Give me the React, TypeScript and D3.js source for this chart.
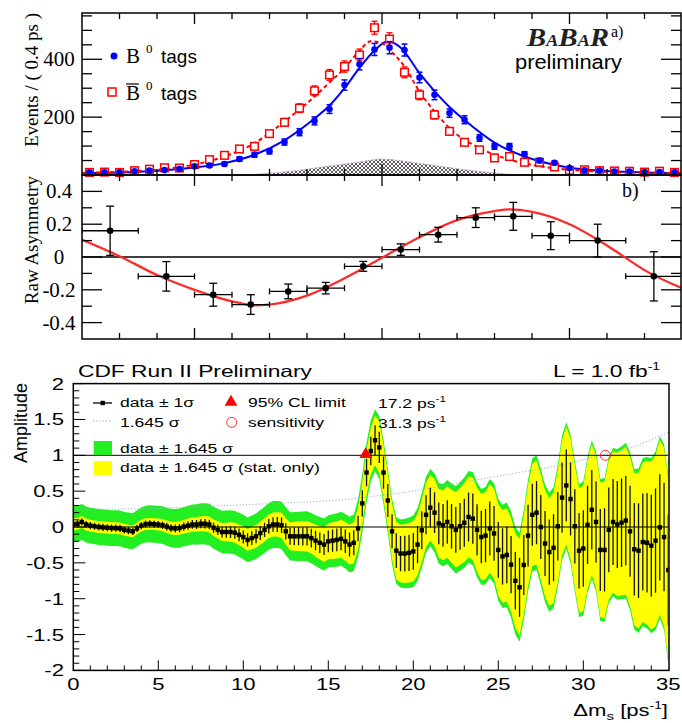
import React from 'react';
import * as d3 from 'd3';

const SERIF = "'Liberation Serif', 'Times New Roman', serif";
const SANS = "'Liberation Sans', Arial, sans-serif";

// ---------- panel a) : B0 / B0bar tagged delta-t distributions ----------
const dtCenters = d3.range(40).map(i => +(-7.8 + 0.4 * i).toFixed(1));
const b0Tags = [9, 9, 9, 13, 15, 17, 21, 30, 33, 38, 55, 70, 82, 114, 148, 187, 228, 311, 383, 434,
  440, 432, 337, 277, 214, 191, 128, 99, 99, 72, 50, 42, 24, 16, 15, 12, 12, 10, 10, 9];
const b0barTags = [9, 10, 9, 15, 20, 25, 24, 36, 53, 68, 90, 99, 143, 182, 231, 291, 346, 375, 415, 509,
  470, 355, 277, 208, 151, 113, 87, 59, 64, 44, 44, 28, 16, 18, 15, 14, 13, 10, 13, 9];
const b0Fit = [[-8, 7], [-7, 9], [-6, 15], [-5, 26], [-4.2, 41], [-3.4, 70], [-2.6, 120], [-1.8, 195],
  [-1.4, 240], [-1, 300], [-0.6, 370], [-0.2, 430], [0.15, 462], [0.5, 440], [1, 352], [1.4, 290],
  [1.8, 235], [2.2, 190], [3, 112], [3.8, 64], [4.5, 38], [5, 25], [6, 14], [7, 9], [8, 7]];
const b0barFit = [[-8, 7], [-7, 11], [-6, 18], [-5, 36], [-4.2, 64], [-3.4, 110], [-2.6, 185], [-1.8, 271],
  [-1.4, 320], [-1, 369], [-0.6, 430], [-0.3, 462], [0, 455], [0.3, 420], [0.6, 375], [1, 288], [1.4, 220],
  [1.8, 162], [2.6, 93], [3.4, 53], [4.2, 30], [5, 18], [6, 11], [7, 8], [8, 7]];
const bkgShape = [[-3.7, 0], [-3, 6], [-2.5, 12], [-2, 20], [-1.5, 29], [-1, 38], [-0.5, 47], [0, 55],
  [0.5, 49], [1, 40], [1.5, 31], [2, 22], [2.5, 14], [3, 7], [3.6, 0]];
const eventTicks = [200, 400];

// ---------- panel b) : raw asymmetry ----------
const asymLo = [-8, -6.5, -5, -4, -3, -2, -1, 0, 1, 2, 3, 4, 5, 6.5];
const asymHi = [-6.5, -5, -4, -3, -2, -1, 0, 1, 2, 3, 4, 5, 6.5, 8];
const asymValues = [0.16, -0.118, -0.23, -0.29, -0.21, -0.19, -0.057, 0.045, 0.136, 0.24, 0.248, 0.13, 0.1, -0.118];
const asymErrors = [0.15, 0.09, 0.07, 0.06, 0.045, 0.035, 0.03, 0.035, 0.045, 0.06, 0.085, 0.085, 0.1, 0.15];
const asymFit = [[-8, 0.105], [-7, 0.005], [-6, -0.11], [-5, -0.2], [-4, -0.27], [-3.4, -0.295], [-3, -0.29],
  [-2, -0.235], [-1, -0.13], [0, -0.005], [1, 0.12], [2, 0.225], [3, 0.28], [3.4, 0.29], [4, 0.275],
  [5, 0.2], [6, 0.07], [6.4, 0.01], [7, -0.08], [8, -0.19]];
const asymTicks = [-0.4, -0.2, 0, 0.2, 0.4];

// ---------- CDF amplitude scan, one value per 0.25 ps^-1 ----------
const amplitude = [
  0.04, 0.045, 0.07, 0.035, 0.02, 0.01, 0.0, -0.005, -0.01, -0.015, -0.015, -0.02,
  -0.04, -0.05, -0.06, -0.02, 0.02, 0.04, 0.045, 0.04, 0.035, 0.025, 0.005, -0.015,
  -0.02, -0.015, 0.005, 0.02, 0.035, 0.035, 0.045, 0.045, 0.035, -0.01, -0.04, -0.07,
  -0.07, -0.07, -0.08, -0.11, -0.14, -0.18, -0.155, -0.13, -0.085, -0.04, 0.01, 0.035,
  0.035, 0.025, -0.06, -0.13, -0.13, -0.13, -0.13, -0.13, -0.155, -0.19, -0.22, -0.245,
  -0.2, -0.19, -0.18, -0.165, -0.2, -0.245, -0.22, -0.02, 0.33, 0.76, 1.06, 1.21,
  1.11, 0.76, 0.37, -0.06, -0.33, -0.37, -0.37, -0.36, -0.34, -0.245, -0.046, 0.17,
  0.27, 0.2, 0.05, 0.025, 0.07, 0.01, -0.04, 0.01, 0.06, 0.14, 0.116, -0.04,
  -0.14, -0.12, -0.02, -0.09, -0.32, -0.41, -0.39, -0.525, -0.75, -0.84, -0.53, -0.12,
  0.17, 0.2, 0.0, -0.23, -0.35, -0.29, 0.01, 0.41, 0.58, 0.39, 0.01, -0.33,
  -0.3, 0.03, 0.24, 0.07, -0.32, -0.32, -0.04, 0.07, 0.035, 0.06, 0.09, -0.06,
  -0.31, -0.33, -0.21, -0.22, -0.26, -0.19, -0.005, -0.14, -0.6];
const sigmaStat = [
  .05, .05, .05, .05, .05, .05, .05, .05, .05, .05, .05, .05, .05, .05, .05, .05,
  .05, .05, .05, .05, .05, .052, .053, .054, .055, .057, .058, .06, .061, .062, .064, .065,
  .067, .07, .073, .076, .079, .082, .085, .088, .091, .093, .095, .097, .098, .099, .1, .102,
  .103, .108, .113, .118, .123, .125, .127, .128, .13, .136, .142, .147, .152, .155, .158, .161,
  .164, .168, .173, .178, .182, .19, .2, .21, .219, .225, .23, .237, .243, .246, .249, .252,
  .255, .26, .266, .272, .278, .284, .29, .297, .304, .31, .318, .326, .334, .342, .35, .357,
  .365, .37, .376, .382, .388, .392, .396, .398, .4, .41, .42, .43, .433, .44, .447, .452,
  .456, .467, .478, .489, .5, .509, .518, .527, .535, .545, .555, .565, .571, .58, .59, .6,
  .608, .617, .626, .635, .644, .66, .677, .694, .711, .726, .741, .757, .772];
const sigmaTot = [
  .152, .152, .152, .152, .152, .152, .152, .152, .152, .152, .152, .152, .152, .153, .153, .154,
  .155, .156, .156, .157, .158, .16, .161, .163, .164, .166, .167, .169, .17, .172, .173, .175,
  .176, .178, .179, .181, .182, .184, .185, .187, .188, .19, .192, .193, .195, .196, .198, .199,
  .2, .202, .204, .205, .207, .209, .21, .212, .213, .215, .218, .22, .222, .224, .227, .229,
  .231, .236, .24, .245, .249, .254, .258, .263, .267, .271, .275, .279, .283, .288, .294, .299,
  .304, .31, .316, .322, .328, .335, .342, .349, .356, .363, .37, .376, .383, .389, .395, .401,
  .407, .413, .42, .426, .432, .438, .444, .45, .456, .462, .468, .474, .48, .486, .493, .499,
  .505, .513, .52, .528, .535, .544, .553, .562, .571, .579, .587, .594, .602, .611, .62, .629,
  .638, .649, .66, .67, .681, .696, .712, .727, .742, .757, .772, .787, .802];
const dmsStep = 0.25;
const ampTicks = [-2, -1.5, -1, -0.5, 0, 0.5, 1, 1.5, 2];
const dmsTicks = [0, 5, 10, 15, 20, 25, 30, 35];
const clLimit = 17.2;
const sensitivity = 31.3;

const St = ({ x, y, size = 16, anchor = 'start', sx = 1.38, children }: any) => (
  <text transform={`translate(${x},${y}) scale(${sx},1)`} fontSize={size} fontFamily={SANS} textAnchor={anchor}>
    {children}
  </text>
);

export default function App() {
  // shared delta-t axis of a) and b)
  const xT = d3.scaleLinear().domain([-8, 8]).range([82, 682]);
  const yEv = d3.scaleLinear().domain([0, 560]).range([175, 13]);
  const yAs = d3.scaleLinear().domain([-0.5, 0.5]).range([339, 175]);
  const xD = d3.scaleLinear().domain([0, 35]).range([73.3, 668.3]);
  const yA = d3.scaleLinear().domain([-2, 2]).range([670.4, 383.6]);

  const fitLine = d3.line<number[]>().x(d => xT(d[0])).y(d => yEv(d[1])).curve(d3.curveMonotoneX);
  const asymLine = d3.line<number[]>().x(d => xT(d[0])).y(d => yAs(d[1])).curve(d3.curveMonotoneX);
  const bkgArea = d3.area<number[]>().x(d => xT(d[0])).y0(yEv(0)).y1(d => yEv(d[1])).curve(d3.curveMonotoneX);

  const rows = amplitude.map((a, i) => ({ x: i * dmsStep, a, st: sigmaStat[i], tot: sigmaTot[i] }));
  const band = (k: 'st' | 'tot') => d3.area<any>().x(d => xD(d.x))
    .y0(d => yA(d.a - 1.645 * d[k])).y1(d => yA(d.a + 1.645 * d[k]))(rows);
  const sensLine = d3.line<any>().x(d => xD(d.x)).y(d => yA(1.645 * d.tot))(rows);
  const tri = d3.symbol(d3.symbolTriangle, 70)();

  const evMinor = d3.range(50, 560, 50);
  const asMinor = d3.range(-4, 5).map(v => v / 10);
  const dtTicks = d3.range(-7, 8);
  const ampMinor = d3.range(-20, 21).map(v => v / 10);
  const dmsMinor = d3.range(1, 35);

  return (
    <svg width={682} height={723} style={{ position: 'absolute', left: 0, top: 0, background: '#fff' }}>
      <defs>
        <pattern id="hatch" width="4" height="4" patternUnits="userSpaceOnUse">
          <path d="M0,0 L4,4 M4,0 L0,4" stroke="#333" strokeWidth="0.8" />
        </pattern>
        <clipPath id="cdfClip"><rect x={73.3} y={383.6} width={595} height={286.8} /></clipPath>
        <clipPath id="topClip"><rect x={82} y={13} width={599} height={326} /></clipPath>
      </defs>

      {/* ---------------- panel a) ---------------- */}
      <g clipPath="url(#topClip)">
        <path d={bkgArea(bkgShape) || ''} fill="url(#hatch)" stroke="#c9a3d9" strokeWidth={1} strokeDasharray="2,1" />
        <path d={fitLine(b0Fit) || ''} fill="none" stroke="#0000ff" strokeWidth={2} />
        <path d={fitLine(b0barFit) || ''} fill="none" stroke="#ff0000" strokeWidth={2} strokeDasharray="4,3" />
        {dtCenters.map((t, i) => {
          const v = b0barTags[i], e = Math.sqrt(v), x = xT(t);
          return (
            <g key={'r' + i} stroke="#ff0000" strokeWidth={1.3}>
              <line x1={x} x2={x} y1={yEv(v - e)} y2={yEv(v + e)} />
              <line x1={x - 3} x2={x + 3} y1={yEv(v - e)} y2={yEv(v - e)} />
              <line x1={x - 3} x2={x + 3} y1={yEv(v + e)} y2={yEv(v + e)} />
              <rect x={x - 3.8} y={yEv(v) - 3.8} width={7.6} height={7.6} fill="#fff" strokeWidth={1.5} />
            </g>
          );
        })}
        {dtCenters.map((t, i) => {
          const v = b0Tags[i], e = Math.sqrt(v), x = xT(t);
          return (
            <g key={'b' + i} stroke="#0000ff" strokeWidth={1.5}>
              <line x1={x} x2={x} y1={yEv(v - e)} y2={yEv(v + e)} />
              <line x1={x - 3} x2={x + 3} y1={yEv(v - e)} y2={yEv(v - e)} />
              <line x1={x - 3} x2={x + 3} y1={yEv(v + e)} y2={yEv(v + e)} />
              <circle cx={x} cy={yEv(v)} r={3.3} fill="#0000ff" stroke="none" />
            </g>
          );
        })}
      </g>
      <rect x={82} y={13} width={599} height={162} fill="none" stroke="#000" strokeWidth={1.5} />
      {evMinor.map(v => {
        const len = eventTicks.includes(v) ? 20 : 10;
        return (
          <g key={'et' + v} stroke="#000" strokeWidth={1.3}>
            <line x1={82} x2={82 + len} y1={yEv(v)} y2={yEv(v)} />
            <line x1={681} x2={681 - len} y1={yEv(v)} y2={yEv(v)} />
          </g>
        );
      })}
      {dtTicks.map(t => {
        const len = t % 5 === 0 ? 11 : 6;
        return (
          <g key={'dt' + t} stroke="#000" strokeWidth={1.3}>
            <line x1={xT(t)} x2={xT(t)} y1={13} y2={13 + len} />
            <line x1={xT(t)} x2={xT(t)} y1={175} y2={175 - len} />
            <line x1={xT(t)} x2={xT(t)} y1={175} y2={175 + len} />
            <line x1={xT(t)} x2={xT(t)} y1={339} y2={339 - len} />
          </g>
        );
      })}
      {eventTicks.map(v => (
        <text key={'el' + v} x={59} y={yEv(v) + 7} fontSize={21} fontFamily={SERIF} textAnchor="middle">{v}</text>
      ))}
      <text transform="translate(38,80) rotate(-90)" fontSize={19} fontFamily={SERIF} textAnchor="middle">Events / ( 0.4 ps )</text>

      <circle cx={114} cy={56} r={3.5} fill="#0000ff" />
      <text x={126} y={63} fontSize={21} fontFamily={SERIF}>B</text>
      <text x={146} y={53} fontSize={13} fontFamily={SERIF}>0</text>
      <text x={161} y={63} fontSize={19} fontFamily={SANS}>tags</text>
      <rect x={108} y={88} width={8} height={8} fill="#fff" stroke="#ff0000" strokeWidth={1.5} />
      <text x={126} y={100} fontSize={21} fontFamily={SERIF}>B</text>
      <line x1={126} x2={139} y1={84} y2={84} stroke="#000" strokeWidth={1.2} />
      <text x={146} y={90} fontSize={13} fontFamily={SERIF}>0</text>
      <text x={161} y={100} fontSize={19} fontFamily={SANS}>tags</text>

      <text x={527} y={46} fontFamily={SERIF} fontStyle="italic" fontWeight="bold" fill="#222"
        textLength={82} lengthAdjust="spacingAndGlyphs">
        <tspan fontSize={26}>B</tspan><tspan fontSize={17}>A</tspan><tspan fontSize={26}>B</tspan><tspan fontSize={17}>A</tspan><tspan fontSize={26}>R</tspan>
      </text>
      <text x={611} y={37} fontSize={16} fontFamily={SERIF}>a)</text>
      <text x={515} y={69} fontSize={19.5} fontFamily={SANS} textLength={107} lengthAdjust="spacingAndGlyphs">preliminary</text>

      {/* ---------------- panel b) ---------------- */}
      <g clipPath="url(#topClip)">
        <line x1={82} x2={681} y1={yAs(0)} y2={yAs(0)} stroke="#000" strokeWidth={1.5} />
        <path d={asymLine(asymFit) || ''} fill="none" stroke="#ff2a2a" strokeWidth={2.3} />
        {asymValues.map((v, i) => {
          const xc = xT((asymLo[i] + asymHi[i]) / 2), yc = yAs(v), e = asymErrors[i];
          return (
            <g key={'a' + i} stroke="#000" strokeWidth={1.3}>
              <line x1={xT(asymLo[i])} x2={xT(asymHi[i])} y1={yc} y2={yc} />
              <line x1={xT(asymLo[i])} x2={xT(asymLo[i])} y1={yc - 3} y2={yc + 3} />
              <line x1={xT(asymHi[i])} x2={xT(asymHi[i])} y1={yc - 3} y2={yc + 3} />
              <line x1={xc} x2={xc} y1={yAs(v - e)} y2={yAs(v + e)} />
              <line x1={xc - 4} x2={xc + 4} y1={yAs(v - e)} y2={yAs(v - e)} />
              <line x1={xc - 4} x2={xc + 4} y1={yAs(v + e)} y2={yAs(v + e)} />
              <circle cx={xc} cy={yc} r={3.3} fill="#000" stroke="none" />
            </g>
          );
        })}
      </g>
      <rect x={82} y={175} width={599} height={164} fill="none" stroke="#000" strokeWidth={1.5} />
      {asMinor.map(v => {
        const len = asymTicks.some(t => Math.abs(t - v) < 1e-9) ? 20 : 10;
        return (
          <g key={'at' + v} stroke="#000" strokeWidth={1.3}>
            <line x1={82} x2={82 + len} y1={yAs(v)} y2={yAs(v)} />
            <line x1={681} x2={681 - len} y1={yAs(v)} y2={yAs(v)} />
          </g>
        );
      })}
      {asymTicks.map(v => (
        <text key={'al' + v} x={59} y={yAs(v) + 7} fontSize={21} fontFamily={SERIF} textAnchor="middle">{v === 0 ? '0' : v}</text>
      ))}
      <text transform="translate(38,240) rotate(-90)" fontSize={19} fontFamily={SERIF} textAnchor="middle">Raw Asymmetry</text>
      <text x={622} y={197} fontSize={20} fontFamily={SERIF}>b)</text>

      {/* ---------------- CDF amplitude scan ---------------- */}
      <g clipPath="url(#cdfClip)">
        <path d={band('tot') || ''} fill="#22ee22" />
        <path d={band('st') || ''} fill="#ffff00" />
        <path d={sensLine || ''} fill="none" stroke="#98a8d8" strokeWidth={1} strokeDasharray="1.2,2" />
        <line x1={xD(0)} x2={xD(35)} y1={yA(0)} y2={yA(0)} stroke="#000" strokeWidth={1} />
        <line x1={xD(0)} x2={xD(35)} y1={yA(1)} y2={yA(1)} stroke="#000" strokeWidth={1} />
        {rows.map((d, i) => (
          <line key={'eb' + i} x1={xD(d.x)} x2={xD(d.x)} y1={yA(d.a - d.st)} y2={yA(d.a + d.st)}
            stroke="#111" strokeWidth={1.3} />
        ))}
        {rows.map((d, i) => (
          <rect key={'mk' + i} x={xD(d.x) - 2.2} y={yA(d.a) - 2.2} width={4.4} height={4.4} fill="#000" />
        ))}
        <path d={tri || ''} transform={`translate(${xD(clLimit)},${yA(1) - 1})`} fill="#ff0000" />
        <circle cx={xD(sensitivity)} cy={yA(1)} r={5} fill="none" stroke="#ff3030" strokeWidth={1} />
      </g>
      <rect x={73.3} y={383.6} width={595.7} height={286.8} fill="none" stroke="#000" strokeWidth={1.5} />
      {ampMinor.map(v => {
        const major = Math.abs(v * 2 - Math.round(v * 2)) < 1e-9;
        return <line key={'ym' + v} x1={73.3} x2={73.3 + (major ? 12 : 6)} y1={yA(v)} y2={yA(v)} stroke="#000" strokeWidth={1} />;
      })}
      {dmsMinor.map(v => (
        <line key={'xm' + v} x1={xD(v)} x2={xD(v)} y1={670.4} y2={670.4 - (v % 5 === 0 ? 10 : 5)} stroke="#000" strokeWidth={1} />
      ))}
      {ampTicks.map(v => (
        <St key={'yl' + v} x={64} y={yA(v) + 6} anchor="end">{String(v)}</St>
      ))}
      {dmsTicks.map(v => (
        <St key={'xl' + v} x={xD(v)} y={690} anchor="middle">{String(v)}</St>
      ))}
      <text transform="translate(27,383) rotate(-90)" fontSize={18} fontFamily={SANS} textAnchor="end">Amplitude</text>
      <St x={668} y={716} anchor="end">
        Δm<tspan fontSize={11} dy={4}>s</tspan><tspan dy={-4}> [ps</tspan><tspan fontSize={10} dy={-7}>-1</tspan><tspan dy={7}>]</tspan>
      </St>
      <St x={78} y={377} size={16.5}>CDF Run II Preliminary</St>
      <St x={660} y={377} size={16.5} anchor="end">
        L = 1.0 fb<tspan fontSize={10} dy={-7}>-1</tspan>
      </St>

      {/* legend */}
      <line x1={93} x2={112} y1={403} y2={403} stroke="#000" strokeWidth={1.3} />
      <rect x={100.5} y={400.8} width={4.4} height={4.4} fill="#000" />
      <St x={120} y={407} size={13.5} sx={1.3}>data ± 1σ</St>
      <line x1={93} x2={111} y1={421} y2={421} stroke="#98a8d8" strokeWidth={1} strokeDasharray="1.2,2" />
      <St x={120} y={427} size={13.5} sx={1.3}>1.645 σ</St>
      <rect x={93.7} y={441} width={18.3} height={14} fill="#22ee22" />
      <St x={120} y={453} size={13.5} sx={1.3}>data ± 1.645 σ</St>
      <rect x={93.7} y={461} width={18.3} height={14} fill="#ffff00" />
      <St x={120} y={472} size={13.5} sx={1.3}>data ± 1.645 σ (stat. only)</St>
      <path d={tri || ''} transform="translate(231,402)" fill="#ff0000" />
      <St x={248} y={407} size={13.5} sx={1.3}>95% CL limit</St>
      <circle cx={231.7} cy={422.3} r={5} fill="none" stroke="#ff3030" strokeWidth={1} />
      <St x={248} y={427} size={13.5} sx={1.3}>sensitivity</St>
      <St x={378} y={408} size={13.5} sx={1.3}>
        17.2 ps<tspan fontSize={9} dy={-6}>-1</tspan>
      </St>
      <St x={378} y={428} size={13.5} sx={1.3}>
        31.3 ps<tspan fontSize={9} dy={-6}>-1</tspan>
      </St>
    </svg>
  );
}
